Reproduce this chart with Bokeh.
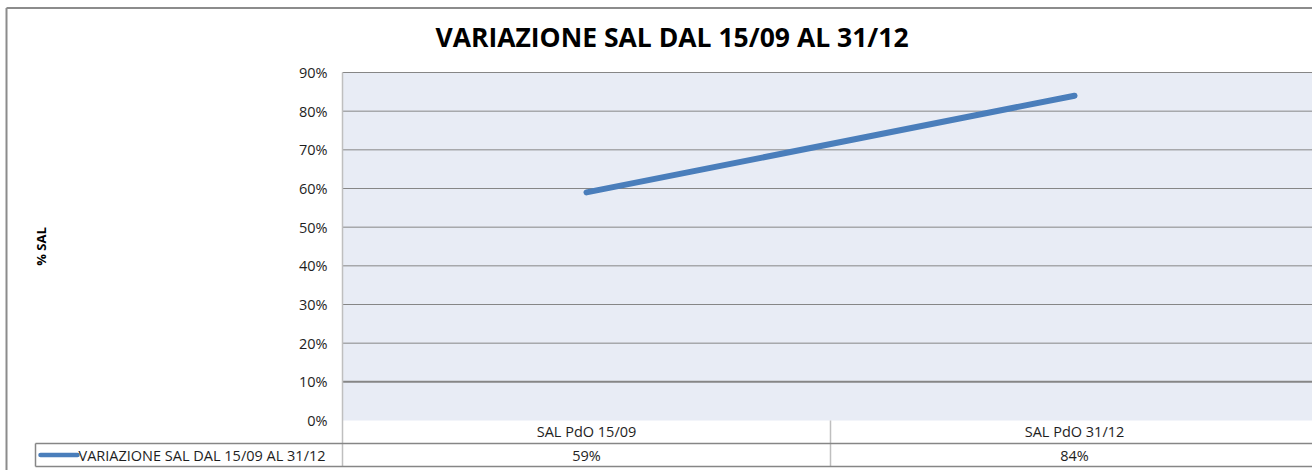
import math
from bokeh.plotting import figure
from bokeh.models import Range1d
from bokeh.core.properties import value
from bokeh.embed import file_html
from bokeh.resources import INLINE

# ---------------- data ----------------
title_text = "VARIAZIONE SAL DAL 15/09 AL 31/12"
series_name = "VARIAZIONE SAL DAL 15/09 AL 31/12"
y_axis_label = "% SAL"
categories = ["SAL PdO 15/09", "SAL PdO 31/12"]
sal_values = [59, 84]
value_labels = ["59%", "84%"]
y_ticks = [0, 10, 20, 30, 40, 50, 60, 70, 80, 90]
y_tick_labels = ["0%", "10%", "20%", "30%", "40%", "50%", "60%", "70%", "80%", "90%"]

# ---------------- layout (figure pixels) ----------------
W, H = 1312, 470
L = 342          # left edge of plot area
T = 72           # top of plot area (90%)
B = 420          # bottom of plot area (0%)
CW = 488         # width of one category column
YMAX = y_ticks[-1]
k = (B - T) / YMAX


def fx(px):
    return (px - L) / CW


def fy(py):
    return (B - py) / k


x_end = (W - L) / CW
p = figure(width=W, height=H,
           x_range=Range1d(-L / CW, x_end),
           y_range=Range1d(-(H - B) / k, B / k),
           x_axis_type=None, y_axis_type=None,
           output_backend="svg", toolbar_location=None, min_border=0)
p.grid.visible = False
p.outline_line_color = None
p.background_fill_color = "white"
p.border_fill_color = "white"

FONT = value("Open Sans")
GRID = "#868686"
LIGHT = "#BFBFBF"
BLUE = "#4A7EBB"
TXT = "#1E1E1E"
SMALL = "14.5px"

# outer chart border (top and left)
p.segment(x0=[fx(6), fx(6)], y0=[fy(7.5), fy(7.5)], x1=[x_end, fx(6)], y1=[fy(7.5), fy(H)],
          line_color="#8C8C8C", line_width=2)

# plot area
p.quad(left=[0], right=[x_end], bottom=[0], top=[YMAX],
       fill_color="#E8ECF5", line_color=None)

# gridlines
g_ticks = [t for t in y_ticks if t > 0]
p.segment(x0=[0] * len(g_ticks), y0=g_ticks, x1=[x_end] * len(g_ticks), y1=g_ticks,
          line_color=GRID, line_width=[2 if t == 10 else 1 for t in g_ticks])

# y tick labels
p.text(x=[fx(327)] * len(y_ticks), y=y_ticks, text=y_tick_labels,
       text_font=FONT, text_font_size=SMALL, text_color=TXT,
       text_align="right", text_baseline="middle")

# title
p.text(x=[fx(671.5)], y=[fy(36)], text=[title_text],
       text_font=FONT, text_font_size="26.5px", text_font_style="bold",
       text_color="black", text_align="center", text_baseline="middle")

# y axis label
p.text(x=[fx(40)], y=[fy(246)], text=[y_axis_label], angle=math.pi / 2,
       text_font=FONT, text_font_size="13px", text_font_style="bold",
       text_color="black", text_align="center", text_baseline="middle")

# series line
xs = [i + 0.5 for i in range(len(categories))]
p.line(xs, sal_values, line_color=BLUE, line_width=6, line_cap="round")

# ---------------- data table ----------------
row1_mid, row_sep, row2_mid, row_bot = 431, 443, 454.5, 466
# vertical lines: axis line and column separators
vx = [float(i) for i in range(len(categories))]
p.segment(x0=vx, y0=[YMAX if i == 0 else 0 for i in range(len(vx))],
          x1=vx, y1=[fy(row_bot)] * len(vx), line_color=LIGHT, line_width=1.5)
# horizontal table lines
p.segment(x0=[fx(35), fx(35)], y0=[fy(row_sep), fy(row_bot)],
          x1=[x_end, x_end], y1=[fy(row_sep), fy(row_bot)],
          line_color=GRID, line_width=1.5)
p.segment(x0=[fx(35)], y0=[fy(row_sep)], x1=[fx(35)], y1=[fy(row_bot)],
          line_color=GRID, line_width=1.5)
# category labels
p.text(x=xs, y=[fy(row1_mid)] * len(xs), text=categories,
       text_font=FONT, text_font_size=SMALL, text_color=TXT,
       text_align="center", text_baseline="middle")
# value labels
p.text(x=xs, y=[fy(row2_mid)] * len(xs), text=value_labels,
       text_font=FONT, text_font_size=SMALL, text_color=TXT,
       text_align="center", text_baseline="middle")
# legend key
p.segment(x0=[fx(40)], y0=[fy(row2_mid)], x1=[fx(77)], y1=[fy(row2_mid)],
          line_color=BLUE, line_width=4.5, line_cap="round")
p.text(x=[fx(78)], y=[fy(row2_mid)], text=[series_name],
       text_font=FONT, text_font_size=SMALL, text_color=TXT,
       text_align="left", text_baseline="middle")

open("out.html", "w").write(file_html(p, INLINE))
